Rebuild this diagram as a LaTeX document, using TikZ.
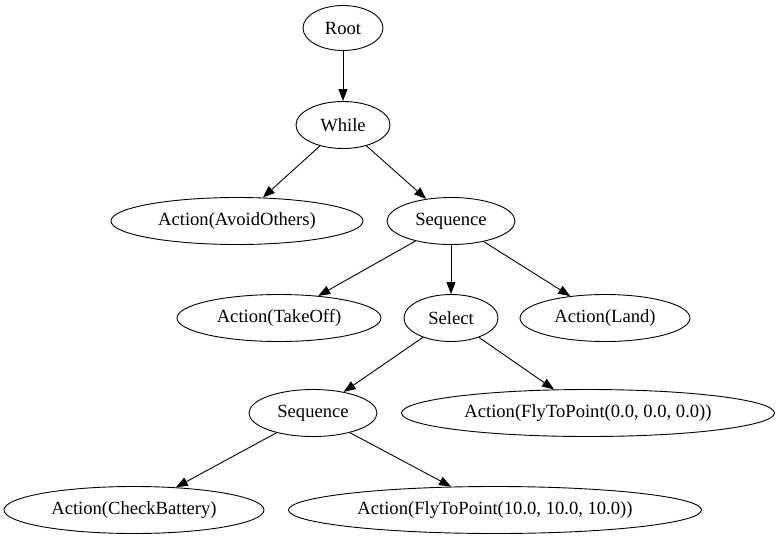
\documentclass[tikz,border=0pt]{standalone}
\usepackage{fontspec}
\setmainfont{Liberation Serif}
\usetikzlibrary{shapes.geometric,arrows.meta}
\begin{document}
\begin{tikzpicture}[x=1pt,y=-1pt,
  tn/.style={draw,ellipse,line width=0.9pt,inner sep=0pt,minimum height=47pt,font=\fontsize{18.6}{20}\selectfont},
  edge/.style={draw,line width=0.9pt,-{Triangle[length=12pt,width=9pt]}}]
\useasboundingbox[fill=white] (0,0) rectangle (780,539);
\node[tn,minimum width=80pt,minimum height=45pt] (root) at (343,28) {Root};
\node[tn,minimum width=94pt] (while) at (343,125) {While};
\node[tn,minimum width=252pt] (avoid) at (237,221) {Action(AvoidOthers)};
\node[tn,minimum width=128pt] (seq1) at (451,221) {Sequence};
\node[tn,minimum width=204pt] (takeoff) at (279,318) {Action(TakeOff)};
\node[tn,minimum width=94pt] (select) at (451,318) {Select};
\node[tn,minimum width=170pt] (land) at (605,318) {Action(Land)};
\node[tn,minimum width=128pt] (seq2) at (313,413) {Sequence};
\node[tn,minimum width=373pt] (fly0) at (588,413) {Action(FlyToPoint(0.0, 0.0, 0.0))};
\node[tn,minimum width=260pt] (battery) at (134,510) {Action(CheckBattery)};
\node[tn,minimum width=413pt] (fly10) at (495,510) {Action(FlyToPoint(10.0, 10.0, 10.0))};
\path[edge] (root) -- (while);
\path[edge] (while) -- (avoid);
\path[edge] (while) -- (seq1);
\path[edge] (seq1) -- (takeoff);
\path[edge] (seq1) -- (select);
\path[edge] (seq1) -- (land);
\path[edge] (select) -- (seq2);
\path[edge] (select) -- (fly0);
\path[edge] (seq2) -- (battery);
\path[edge] (seq2) -- (fly10);
\end{tikzpicture}
\end{document}
